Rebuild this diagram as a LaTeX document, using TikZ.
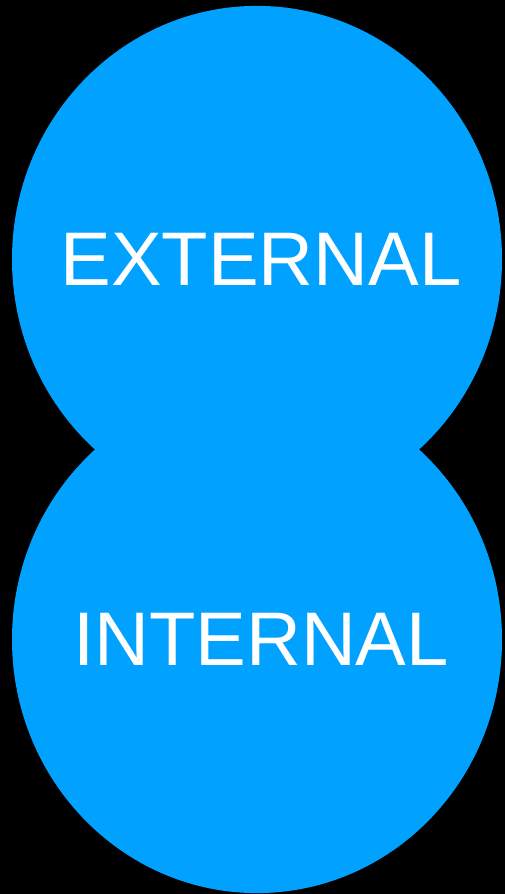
\documentclass[tikz,border=0pt]{standalone}
\usepackage{fontspec}
\setmainfont{Liberation Sans}
\usetikzlibrary{shapes.geometric}
\definecolor{blobblue}{RGB}{0,161,255}

\begin{document}
\begin{tikzpicture}[x=1pt,y=1pt,
    blob/.style={ellipse,fill=blobblue,inner sep=0pt,minimum width=490pt,minimum height=507pt},
    blobtext/.style={text=white,inner sep=0pt,font=\fontsize{76}{80}\selectfont}]
  \useasboundingbox (0,0) rectangle (504,894);
  \fill[black] (-2,-2) rectangle (506,896);
  \clip (0,0) rectangle (504,894);
  % two overlapping blobs
  \node[blob] (external) at (257,634.6) {};
  \node[blob] (internal) at (257,254.4) {};
  \node[blobtext,xshift=4pt] (externaltext) at (external.center) {EXTERNAL};
  \node[blobtext,xshift=4pt] (internaltext) at (internal.center) {INTERNAL};
\end{tikzpicture}
\end{document}
